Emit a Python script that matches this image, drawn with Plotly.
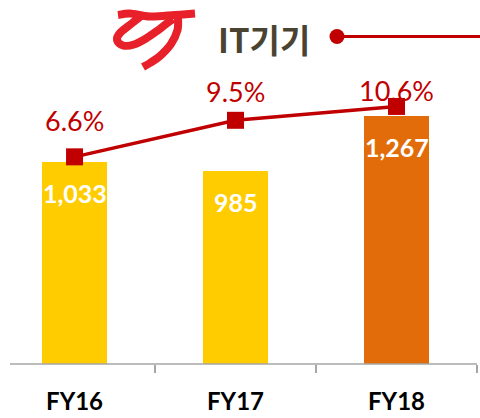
import plotly.graph_objects as go

# ---- data ----
categories = ["FY16", "FY17", "FY18"]
sales = [1033, 985, 1267]
sales_labels = ["1,033", "985", "1,267"]
margin_pct = [6.6, 9.5, 10.6]
pct_labels = ["6.6%", "9.5%", "10.6%"]
title_text = "IT기기"

# ---- styling ----
W, H = 480, 418
bar_colors = ["#FFCC00", "#FFCC00", "#E36C0A"]
line_color = "#C00000"
pct_label_shift = [36, 29, 16]
FONT = "Lato"


def X(p):
    return p / W


def Y(p):
    return 1 - p / H


def smooth_path(points):
    """Catmull-Rom -> cubic bezier path in paper coords from pixel points."""
    pts = [(X(x), Y(y)) for x, y in points]
    d = f"M {pts[0][0]:.5f},{pts[0][1]:.5f}"
    for i in range(len(pts) - 1):
        p0 = pts[i - 1] if i > 0 else pts[i]
        p1 = pts[i]
        p2 = pts[i + 1]
        p3 = pts[i + 2] if i + 2 < len(pts) else pts[i + 1]
        c1 = (p1[0] + (p2[0] - p0[0]) / 6, p1[1] + (p2[1] - p0[1]) / 6)
        c2 = (p2[0] - (p3[0] - p1[0]) / 6, p2[1] - (p3[1] - p1[1]) / 6)
        d += f" C {c1[0]:.5f},{c1[1]:.5f} {c2[0]:.5f},{c2[1]:.5f} {p2[0]:.5f},{p2[1]:.5f}"
    return d


fig = go.Figure()
fig.add_trace(go.Bar(
    x=categories, y=sales, yaxis="y",
    marker=dict(color=bar_colors, line_width=0),
    width=0.404, hoverinfo="skip", showlegend=False,
))
fig.add_trace(go.Scatter(
    x=categories, y=margin_pct, yaxis="y2", mode="lines+markers",
    line=dict(color=line_color, width=3.5),
    marker=dict(symbol="square", size=17, color=line_color),
    hoverinfo="skip", showlegend=False,
))

annotations = []
for c, v, t in zip(categories, sales, sales_labels):
    annotations.append(dict(
        x=c, y=v, xref="x", yref="y", text=t, showarrow=False, yshift=-31,
        font=dict(family=FONT, size=25, color="white", weight="bold"),
    ))
for c, v, t, s in zip(categories, margin_pct, pct_labels, pct_label_shift):
    annotations.append(dict(
        x=c, y=v, xref="x", yref="y2", text=t, showarrow=False, yshift=s,
        font=dict(family=FONT, size=27, color=line_color),
    ))
annotations.append(dict(
    x=X(264), y=Y(39), xref="paper", yref="paper", text=title_text,
    showarrow=False, xanchor="center", yanchor="middle",
    font=dict(family="Noto Sans CJK KR", size=33, color="#4A4332", weight="bold"),
))

logo_color = "#E8202A"
shapes = [
    # axis line
    dict(type="line", xref="paper", yref="paper", x0=X(10), x1=X(477), y0=Y(364), y1=Y(364),
         line=dict(color="#A6A6A6", width=1.5), layer="above"),
    # title decoration
    dict(type="line", xref="paper", yref="paper", x0=X(340), x1=X(480), y0=Y(36.5), y1=Y(36.5),
         line=dict(color=line_color, width=3)),
    dict(type="circle", xref="paper", yref="paper", x0=X(329.5), x1=X(344.5), y0=Y(44), y1=Y(29),
         fillcolor=line_color, line=dict(width=0)),
    # logo strokes
    dict(type="path", xref="paper", yref="paper",
         path=smooth_path([(118, 15), (130, 13.5), (150, 16.5), (175, 15), (195, 13.5)]),
         line=dict(color=logo_color, width=8)),
    dict(type="path", xref="paper", yref="paper",
         path=smooth_path([(141, 16), (131, 24), (120, 33), (117, 40), (123, 45.5), (134, 44.5),
                           (146, 38.5), (157, 31), (166, 24), (173, 19)]),
         line=dict(color=logo_color, width=8)),
    dict(type="path", xref="paper", yref="paper",
         path=smooth_path([(178, 17), (177.5, 30), (171, 44), (160, 56), (150, 63), (143, 67)]),
         line=dict(color=logo_color, width=8)),
]

fig.update_layout(
    width=W, height=H, autosize=False,
    margin=dict(l=0, r=0, t=0, b=0),
    paper_bgcolor="white", plot_bgcolor="white",
    showlegend=False, bargap=0,
    xaxis=dict(
        domain=[0, 477 / W], type="category", range=[-0.463, 2.5],
        tickson="boundaries", ticks="outside", ticklen=8, tickwidth=1.5, tickcolor="#A6A6A6",
        showline=False, showgrid=False, zeroline=False,
        tickfont=dict(family=FONT, size=24, color="black", weight="bold"),
        ticklabelstandoff=21,
    ),
    yaxis=dict(domain=[Y(364), 1], range=[0, 364 * 5.102], visible=False),
    yaxis2=dict(domain=[Y(364), 1], overlaying="y", range=[-124 / 12.6, 240 / 12.6], visible=False),
    annotations=annotations,
    shapes=shapes,
)

fig.write_html(
    "out.html",
    config={"displayModeBar": False, "staticPlot": True},
    post_script="document.body.style.margin='0';document.body.style.overflow='hidden';",
)
